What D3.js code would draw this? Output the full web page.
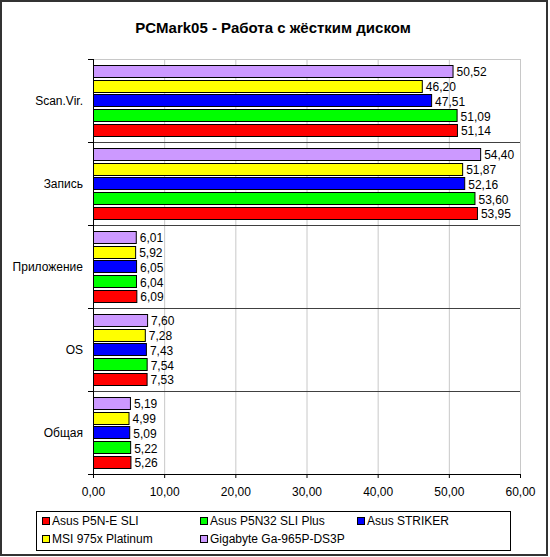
<!DOCTYPE html>
<html>
<head>
<meta charset="utf-8">
<script src="https://cdn.jsdelivr.net/npm/d3@7"></script>
<style>
  body { margin: 0; background: #fff; }
  svg { font-family: "Liberation Sans", Arial, sans-serif; }
</style>
</head>
<body>
<script>
// chart data
var categories = ["Scan.Vir.", "Запись", "Приложение", "OS", "Общая"];
var seriesNames = ["Asus P5N-E SLI", "Asus P5N32 SLI Plus", "Asus STRIKER", "MSI 975x Platinum", "Gigabyte Ga-965P-DS3P"];
var seriesColors = ["#ff0000", "#00ff00", "#0000ff", "#ffff00", "#cc99ff"];
var p5ne = [51.14, 53.95, 6.09, 7.53, 5.26];
var p5n32 = [51.09, 53.60, 6.04, 7.54, 5.22];
var striker = [47.51, 52.16, 6.05, 7.43, 5.09];
var msi = [46.20, 51.87, 5.92, 7.28, 4.99];
var gigabyte = [50.52, 54.40, 6.01, 7.60, 5.19];
var xTicks = [0, 10, 20, 30, 40, 50, 60];

var seriesValues = [p5ne, p5n32, striker, msi, gigabyte];

// set the dimensions of the plot area
var W = 550, H = 557;
var plot = {left: 93, right: 520, top: 59, bottom: 474};

var svg = d3.select("body").append("svg")
    .attr("width", W)
    .attr("height", H);

// outer border
svg.append("rect")
    .attr("x", 1).attr("y", 1)
    .attr("width", 546).attr("height", 554)
    .attr("fill", "#fff")
    .attr("stroke", "#333")
    .attr("stroke-width", 2);

// title
svg.append("text")
    .attr("x", 273)
    .attr("y", 33)
    .attr("text-anchor", "middle")
    .style("font-size", "15px")
    .style("font-weight", "bold")
    .text("PCMark05 - Работа с жёстким диском");

// scales
var x = d3.scaleLinear().domain([0, 60]).range([plot.left, plot.right]);
var y = d3.scaleBand().domain(categories).range([plot.top, plot.bottom]);
// first series at the bottom of each group, like Excel
var yInner = d3.scaleBand()
    .domain(d3.range(seriesNames.length).reverse())
    .range([0, y.bandwidth()])
    .paddingInner(0.18)
    .paddingOuter(0.4);

// vertical gridlines
svg.append("g")
    .selectAll("line")
    .data(xTicks)
    .enter().append("line")
    .attr("x1", function(d) { return x(d) + 0.5; })
    .attr("x2", function(d) { return x(d) + 0.5; })
    .attr("y1", plot.top)
    .attr("y2", plot.bottom)
    .attr("stroke", "#c8c8c8");

// top border of plot area
svg.append("line")
    .attr("x1", plot.left).attr("x2", plot.right)
    .attr("y1", plot.top + 0.5).attr("y2", plot.top + 0.5)
    .attr("stroke", "#c8c8c8");

// category separators
svg.append("g")
    .selectAll("line")
    .data(categories.slice(1))
    .enter().append("line")
    .attr("x1", plot.left - 5)
    .attr("x2", plot.right)
    .attr("y1", function(d) { return Math.round(y(d)) + 0.5; })
    .attr("y2", function(d) { return Math.round(y(d)) + 0.5; })
    .attr("stroke", "#404040");

// bars
var groups = svg.append("g")
    .selectAll("g")
    .data(categories)
    .enter().append("g")
    .attr("transform", function(d) { return "translate(0," + y(d) + ")"; });

groups.each(function(cat, ci) {
    var g = d3.select(this);
    var rows = seriesValues.map(function(vals, si) { return {s: si, v: vals[ci]}; });
    g.selectAll("rect")
        .data(rows)
        .enter().append("rect")
        .attr("x", x(0) + 0.5)
        .attr("y", function(d) { return Math.round(yInner(d.s)) + 0.5; })
        .attr("width", function(d) { return x(d.v) - x(0); })
        .attr("height", Math.round(yInner.bandwidth()))
        .attr("fill", function(d) { return seriesColors[d.s]; })
        .attr("stroke", "#000")
        .attr("stroke-width", 1);
    g.selectAll("text")
        .data(rows)
        .enter().append("text")
        .attr("x", function(d) { return x(d.v) + 4; })
        .attr("y", function(d) { return yInner(d.s) + yInner.bandwidth() / 2 + 1; })
        .attr("dy", "0.36em")
        .style("font-size", "12px")
        .text(function(d) { return d3.format(".2f")(d.v).replace(".", ","); });
});

// y axis
var yAxis = svg.append("g")
    .attr("transform", "translate(" + plot.left + ",0)");
yAxis.append("line")
    .attr("x1", 0.5).attr("x2", 0.5)
    .attr("y1", plot.top).attr("y2", plot.bottom)
    .attr("stroke", "#000");
yAxis.selectAll(".tick")
    .data(categories.concat(["end"]))
    .enter().append("line")
    .attr("x1", -5).attr("x2", 0)
    .attr("y1", function(d, i) { return Math.round(plot.top + i * y.step()) + 0.5; })
    .attr("y2", function(d, i) { return Math.round(plot.top + i * y.step()) + 0.5; })
    .attr("stroke", "#000");
yAxis.selectAll("text")
    .data(categories)
    .enter().append("text")
    .attr("x", -10)
    .attr("y", function(d) { return y(d) + y.bandwidth() / 2; })
    .attr("dy", "0.36em")
    .attr("text-anchor", "end")
    .style("font-size", "12px")
    .text(function(d) { return d; });

// x axis
svg.append("g")
    .attr("transform", "translate(0," + plot.bottom + ")")
    .call(d3.axisBottom(x)
        .tickValues(xTicks)
        .tickSize(4)
        .tickPadding(9)
        .tickFormat(function(d) { return d3.format(".2f")(d).replace(".", ","); }))
    .call(function(g) {
        g.select(".domain").attr("stroke", "#000");
        g.selectAll(".tick line").attr("stroke", "#000");
        g.selectAll(".tick text")
            .style("font-size", "12px")
            .style("font-family", "'Liberation Sans', Arial, sans-serif")
            .attr("fill", "#000");
    });

// legend
var legendBox = {x: 36.5, y: 511.5, w: 474, h: 39};
svg.append("rect")
    .attr("x", legendBox.x).attr("y", legendBox.y)
    .attr("width", legendBox.w).attr("height", legendBox.h)
    .attr("fill", "#fff")
    .attr("stroke", "#000");

var legendCols = [42, 200, 357];
var legend = svg.selectAll(".legend")
    .data(seriesNames)
    .enter().append("g")
    .attr("class", "legend")
    .attr("transform", function(d, i) {
        return "translate(" + legendCols[i % 3] + "," + (521 + Math.floor(i / 3) * 18) + ")";
    });

legend.append("rect")
    .attr("x", 0.5).attr("y", -3.5)
    .attr("width", 7).attr("height", 7)
    .attr("fill", function(d, i) { return seriesColors[i]; })
    .attr("stroke", "#000");

legend.append("text")
    .attr("x", 10)
    .attr("y", 0)
    .attr("dy", "0.36em")
    .style("font-size", "12px")
    .text(function(d) { return d; });
</script>
</body>
</html>
